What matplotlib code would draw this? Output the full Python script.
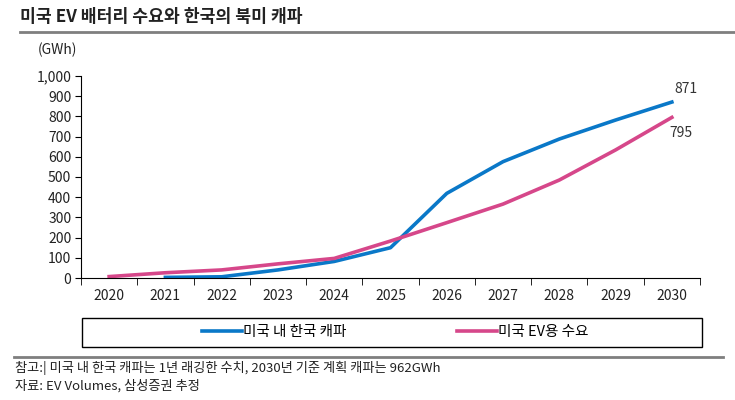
import numpy as np
import matplotlib.pyplot as plt
from matplotlib.patches import Rectangle

plt.rcParams['font.family'] = ['Noto Sans CJK KR', 'DejaVu Sans']

# data
years = ['2020', '2021', '2022', '2023', '2024', '2025', '2026', '2027', '2028', '2029', '2030']
kr_capa = [np.nan, 3, 6, 40, 82, 150, 419, 576, 688, 782, 871]
us_demand = [7, 26, 40, 70, 97, 183, 274, 366, 485, 634, 795]
yticks = [0, 100, 200, 300, 400, 500, 600, 700, 800, 900, 1000]

blue = '#0a78c8'
pink = '#d6478a'

fig = plt.figure(figsize=(7.35, 4), dpi=100)
ax = fig.add_axes([81 / 735, 1 - 278 / 400, 619 / 735, 202 / 400])

x = np.arange(len(years))
ax.plot(x, kr_capa, color=blue, lw=2.6, label='미국 내 한국 캐파')
ax.plot(x, us_demand, color=pink, lw=2.6, label='미국 EV용 수요')

ax.text(x[-1] + 0.05, kr_capa[-1] + 45, f'{kr_capa[-1]}', fontsize=10, color='#333333')
ax.text(x[-1] - 0.05, us_demand[-1] - 95, f'{us_demand[-1]}', fontsize=10, color='#333333')

ax.set_xlim(-0.5, len(years) - 0.5)
ax.set_ylim(0, 1000)
ax.set_yticks(yticks)
ax.set_yticklabels([f'{v:,}' for v in yticks], fontsize=10, color='#222222')
ax.set_xticks(x)
ax.set_xticklabels(years, fontsize=10, color='#222222')
ax.set_xticks(np.arange(-0.5, len(years)), minor=True)
ax.tick_params(axis='x', which='major', length=0, pad=8)
ax.tick_params(axis='x', which='minor', length=5, direction='out', color='black')
ax.tick_params(axis='y', length=4, direction='out', color='black', pad=3)
for s in ['top', 'right']:
    ax.spines[s].set_visible(False)
ax.spines['left'].set_color('black')
ax.spines['bottom'].set_color('black')

# legend box + entries
fig.add_artist(Rectangle((82 / 735, 1 - 347 / 400), 620 / 735, 29 / 400,
                         transform=fig.transFigure, fill=False, edgecolor='black', lw=1))
fig.legend(loc='center', bbox_to_anchor=(395 / 735, 1 - 332 / 400),
           ncol=2, frameon=False, fontsize=10.5,
           handlelength=2.75, handletextpad=0.05, columnspacing=7.6)

# title, unit, footnotes
fig.text(20 / 735, 1 - 17 / 400, '미국 EV 배터리 수요와 한국의 북미 캐파', fontsize=12.4,
         fontweight='bold', va='center', color='#222222')
fig.add_artist(plt.Line2D([20 / 735, 1], [1 - 32 / 400] * 2, color='#7f7f7f', lw=2))
fig.text(38 / 735, 1 - 50 / 400, '(GWh)', fontsize=10, va='center', color='#222222')
fig.add_artist(plt.Line2D([14 / 735, 723 / 735], [1 - 357 / 400] * 2, color='#7f7f7f', lw=2))
fig.text(15 / 735, 1 - 368 / 400, '참고:| 미국 내 한국 캐파는 1년 래깅한 수치, 2030년 기준 계획 캐파는 962GWh',
         fontsize=9.5, va='center', color='#222222')
fig.text(15 / 735, 1 - 386 / 400, '자료: EV Volumes, 삼성증권 추정', fontsize=9.5,
         va='center', color='#222222')

fig.savefig('out.png', dpi=100)
